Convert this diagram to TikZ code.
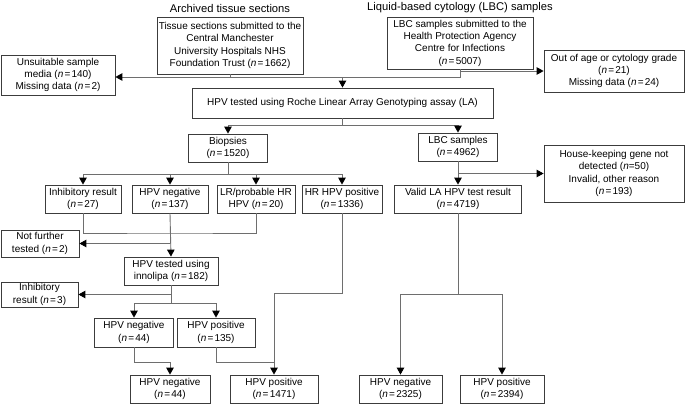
\documentclass[tikz,border=0pt]{standalone}
\usepackage{fontspec}
\setmainfont{Liberation Sans}
\usetikzlibrary{arrows.meta}
\definecolor{boxline}{RGB}{60,60,60}
\definecolor{linkline}{RGB}{110,110,110}
\newcommand{\nval}[1]{(\textit{n}\hspace{0.12em}=\hspace{0.12em}#1)}
\tikzset{
  box/.style={draw=boxline, line width=0.8pt, align=center, inner sep=1pt,
    font=\fontsize{10}{12.3}\selectfont},
  link/.style={draw=linkline, line width=0.9pt},
  arr/.style={link, -{Triangle[length=7pt,width=7.5pt,color=black]}}
}

\begin{document}
\begin{tikzpicture}[x=1pt,y=-1pt]
\useasboundingbox (0,0) rectangle (685,404);

% titles
\node[font=\fontsize{11.2}{13}\selectfont] (ttlA) at (230,8) {Archived tissue sections};
\node[font=\fontsize{11.2}{13}\selectfont] (ttlB) at (460,8) {Liquid-based cytology (LBC) samples};

% sources
\node[box, minimum width=146, minimum height=57] (tissue) at (230,45.5)
  {Tissue sections submitted to the\\Central Manchester\\University Hospitals NHS\\Foundation Trust \nval{1662}};
\node[box, minimum width=146, minimum height=52] (lbc) at (460,43)
  {LBC samples submitted to the\\Health Protection Agency\\Centre for Infections\\\nval{5007}};
\node[box, minimum width=114, minimum height=40] (unsuit) at (58,75)
  {Unsuitable sample\\media \nval{140}\\Missing data \nval{2}};
\node[box, minimum width=140, minimum height=42] (outage) at (614,71)
  {Out of age or cytology grade\\\nval{21}\\Missing data \nval{24}};
\node[box, minimum width=301, minimum height=30] (la) at (342.5,103)
  {HPV tested using Roche Linear Array Genotyping assay (LA)};

% second level
\node[box, minimum width=79, minimum height=28] (biop) at (228,148) {Biopsies\\\nval{1520}};
\node[box, minimum width=79, minimum height=28] (lbcs) at (458,147) {LBC samples\\\nval{4962}};
\node[box, minimum width=140, minimum height=57] (housek) at (614,173.5)
  {House-keeping gene not\\detected (\textit{n}=50)\\Invalid, other reason\\\nval{193}};

% biopsy results
\node[box, minimum width=76, minimum height=28] (inhib) at (83,199) {Inhibitory result\\\nval{27}};
\node[box, minimum width=76, minimum height=28] (hpvneg) at (170,199) {HPV negative\\\nval{137}};
\node[box, minimum width=78, minimum height=28] (lrhr) at (256,199) {LR/probable HR\\HPV \nval{20}};
\node[box, minimum width=80, minimum height=28] (hrpos) at (342,199) {HR HPV positive\\\nval{1336}};
\node[box, minimum width=127, minimum height=28] (valid) at (458,199) {Valid LA HPV test result\\\nval{4719}};

% innolipa
\node[box, minimum width=78, minimum height=27] (notfur) at (40,243.5) {Not further\\tested \nval{2}};
\node[box, minimum width=94, minimum height=28] (inno) at (171,271) {HPV tested using\\innolipa \nval{182}};
\node[box, minimum width=77, minimum height=25] (inhibB) at (39.5,294.5) {Inhibitory\\result \nval{3}};
\node[box, minimum width=79, minimum height=29] (negB) at (134,332.5) {HPV negative\\\nval{44}};
\node[box, minimum width=78, minimum height=29] (posB) at (216,332.5) {HPV positive\\\nval{135}};

% final
\node[box, minimum width=80, minimum height=28] (negBio) at (170,389) {HPV negative\\\nval{44}};
\node[box, minimum width=88, minimum height=28] (posBio) at (274,389) {HPV positive\\\nval{1471}};
\node[box, minimum width=83, minimum height=28] (negLbc) at (400.5,389) {HPV negative\\\nval{2325}};
\node[box, minimum width=84, minimum height=28] (posLbc) at (502,389) {HPV positive\\\nval{2394}};

% junctions
\coordinate (jA) at (342.5,77);
\coordinate (jB) at (342.5,125);
\coordinate (jC) at (228,174);
\coordinate (jD) at (170,233);
\coordinate (jE) at (171,303);
\coordinate (jF) at (170,362);
\coordinate (jG) at (274,362);
\coordinate (jH) at (274,293);
\coordinate (jI) at (458,294);

% connectors
\draw[link] (tissue.south) |- (jA);
\draw[link] (lbc.south) |- (jA);
\draw[arr] (jA) -- (la.north);
\draw[arr] (tissue.south |- jA) -- (unsuit.east |- jA);
\draw[arr] (lbc.south |- outage.west) -- (outage.west);

\draw[link] (la.south) -- (jB);
\draw[arr] (jB) -| (biop.north);
\draw[arr] (jB) -| (lbcs.north);

\draw[link] (biop.south) -- (jC);
\foreach \nd in {inhib,hpvneg,lrhr,hrpos}
  \draw[arr] (jC) -| (\nd.north);

\draw[arr] (lbcs.south) -- (valid.north);
\draw[arr] (lbcs.south |- housek.west) -- (housek.west);

\draw[link] (inhib.south) |- (jD) -| (lrhr.south);
\draw[arr] (hpvneg.south) -- (inno.north);
\draw[arr] (hpvneg.south |- notfur.east) -- (notfur.east);

\draw[link] (inno.south) -- (jE);
\draw[arr] (jE) -| (negB.north);
\draw[arr] (jE) -| (posB.north);
\draw[arr] (inno.south |- inhibB.east) -- (inhibB.east);

\draw[arr] (negB.south) |- (jF) -- (negBio.north);
\draw[link] (posB.south) |- (jG);
\draw[arr] (hrpos.south) |- (jH) -- (posBio.north);

\draw[link] (valid.south) -- (jI);
\draw[arr] (jI) -| (negLbc.north);
\draw[arr] (jI) -| (posLbc.north);

\end{tikzpicture}
\end{document}
